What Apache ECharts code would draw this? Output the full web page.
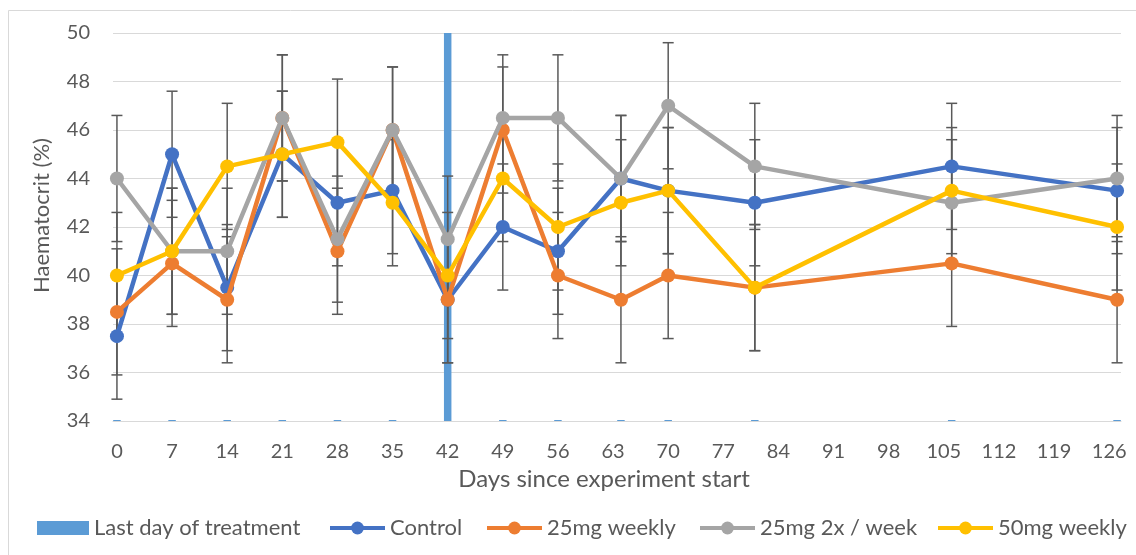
<!DOCTYPE html>
<html>
<head>
<meta charset="utf-8">
<script src="https://cdn.jsdelivr.net/npm/echarts@6/dist/echarts.min.js"></script>
<style>
  html, body { margin: 0; padding: 0; background: #ffffff; }
  #chart { width: 1136px; height: 555px; }
</style>
</head>
<body>
<div id="chart"></div>
<script>
// ---- Data ----
const days = [0, 7, 14, 21, 28, 35, 42, 49, 56, 64, 70, 81, 106, 127];
const control = [37.5, 45, 39.5, 45, 43, 43.5, 39, 42, 41, 44, 43.5, 43, 44.5, 43.5];
const mg25Weekly = [38.5, 40.5, 39, 46.5, 41, 46, 39, 46, 40, 39, 40, 39.5, 40.5, 39];
const mg25Twice = [44, 41, 41, 46.5, 41.5, 46, 41.5, 46.5, 46.5, 44, 47, 44.5, 43, 44];
const mg50Weekly = [40, 41, 44.5, 45, 45.5, 43, 40, 44, 42, 43, 43.5, 39.5, 43.5, 42];
const lastTreatment = [0, 0, 0, 0, 0, 0, 50, 0, 0, 0, 0, 0, 0, 0];
const errorMargin = 2.6;   // fixed error-bar amount
const yTicks = [34, 36, 38, 40, 42, 44, 46, 48, 50];
const axisDays = 128;      // date axis slots: day 0 .. day 127
const labelStep = 7;

const seriesDefs = [
  { name: 'Control', values: control, color: '#4472C4' },
  { name: '25mg weekly', values: mg25Weekly, color: '#ED7D31' },
  { name: '25mg 2x / week', values: mg25Twice, color: '#A5A5A5' },
  { name: '50mg weekly', values: mg50Weekly, color: '#FFC000' }
];
const barName = 'Last day of treatment';

const FONT = 'Lato';
const TXT = '#595959';

const categories = [];
for (let d = 0; d < axisDays; d++) categories.push(String(d));

const yMin = yTicks[0], yMax = yTicks[yTicks.length - 1];

// error bar data (all series)
const errData = [];
seriesDefs.forEach(s => {
  s.values.forEach((v, i) => errData.push([days[i], v - errorMargin, v + errorMargin]));
});

const barData = days.map((d, i) => [d, lastTreatment[i]]);

const chart = echarts.init(document.getElementById('chart'), null, { renderer: 'canvas' });

const legendText = { color: TXT, fontSize: 22, fontFamily: FONT };
const legendLeft = [323, 480, 693, 931];
const legends = [{
  data: [{ name: barName, icon: 'rect' }],
  left: 32, top: 512,
  itemWidth: 52, itemHeight: 14,
  textStyle: legendText
}].concat(seriesDefs.map((s, k) => ({
  data: [s.name],
  left: legendLeft[k], top: 512,
  itemWidth: 55, itemHeight: 16,
  lineStyle: { width: 4 },
  textStyle: legendText
})));

const option = {
  backgroundColor: '#ffffff',
  animation: false,
  textStyle: { fontFamily: FONT },
  graphic: [{
    type: 'rect',
    shape: { x: 8.5, y: 10.5, width: 1200, height: 600 },
    style: { fill: 'none', stroke: '#d9d9d9', lineWidth: 1 },
    silent: true, z: -10
  }],
  grid: { left: 113, right: 15, top: 33, bottom: 134, containLabel: false },
  legend: legends,
  xAxis: {
    type: 'category',
    data: categories,
    boundaryGap: true,
    name: 'Days since experiment start',
    nameLocation: 'middle',
    nameGap: 46,
    nameTextStyle: { color: TXT, fontSize: 24, fontFamily: FONT, padding: [0, 26, 0, 0] },
    axisLine: { show: true, lineStyle: { color: '#d9d9d9', width: 1 } },
    axisTick: { show: false },
    axisLabel: {
      color: TXT, fontSize: 20, fontFamily: FONT, margin: 21,
      interval: (idx) => idx % labelStep === 0
    },
    splitLine: { show: false }
  },
  yAxis: {
    type: 'value',
    min: yMin, max: yMax, interval: 2,
    name: 'Haematocrit (%)',
    nameLocation: 'middle',
    nameGap: 60,
    nameRotate: 90,
    nameTextStyle: { color: TXT, fontSize: 22, fontFamily: FONT, padding: [0, 0, 0, 23] },
    axisLine: { show: false },
    axisTick: { show: false },
    axisLabel: { color: TXT, fontSize: 20, fontFamily: FONT, margin: 23 },
    splitLine: { show: true, lineStyle: { color: '#d9d9d9', width: 1 } }
  },
  series: [
    {
      name: barName,
      type: 'custom',
      itemStyle: { color: '#5B9BD5' },
      data: barData,
      encode: { x: 0, y: 1 },
      z: 1,
      renderItem: function (params, api) {
        const d = api.value(0);
        const v = api.value(1);
        const base = api.coord([d, yMin]);
        const top = api.coord([d, Math.max(v, yMin)]);
        const w = api.size([1, 0])[0] * 0.95;
        let h = base[1] - top[1];
        if (h < 1) h = 1;
        return {
          type: 'rect',
          shape: { x: base[0] - w / 2, y: base[1] - h, width: w, height: h },
          style: { fill: '#5B9BD5' }
        };
      }
    },
    {
      name: 'errorbars',
      type: 'custom',
      data: errData,
      encode: { x: 0, y: [1, 2] },
      z: 2,
      silent: true,
      renderItem: function (params, api) {
        const d = api.value(0);
        const lo = api.coord([d, api.value(1)]);
        const hi = api.coord([d, api.value(2)]);
        const cap = 5.5;
        const st = { stroke: '#595959', lineWidth: 1.5 };
        return {
          type: 'group',
          children: [
            { type: 'line', shape: { x1: lo[0], y1: lo[1], x2: hi[0], y2: hi[1] }, style: st },
            { type: 'line', shape: { x1: hi[0] - cap, y1: hi[1], x2: hi[0] + cap, y2: hi[1] }, style: st },
            { type: 'line', shape: { x1: lo[0] - cap, y1: lo[1], x2: lo[0] + cap, y2: lo[1] }, style: st }
          ]
        };
      }
    }
  ].concat(seriesDefs.map((s, k) => ({
    name: s.name,
    type: 'line',
    data: days.map((d, i) => [d, s.values[i]]),
    symbol: 'circle',
    symbolSize: 14,
    showSymbol: true,
    showAllSymbol: true,
    z: 3 + k,
    itemStyle: { color: s.color },
    lineStyle: { color: s.color, width: 4.5 },
    emphasis: { disabled: true }
  })))
};

chart.setOption(option);
</script>
</body>
</html>
